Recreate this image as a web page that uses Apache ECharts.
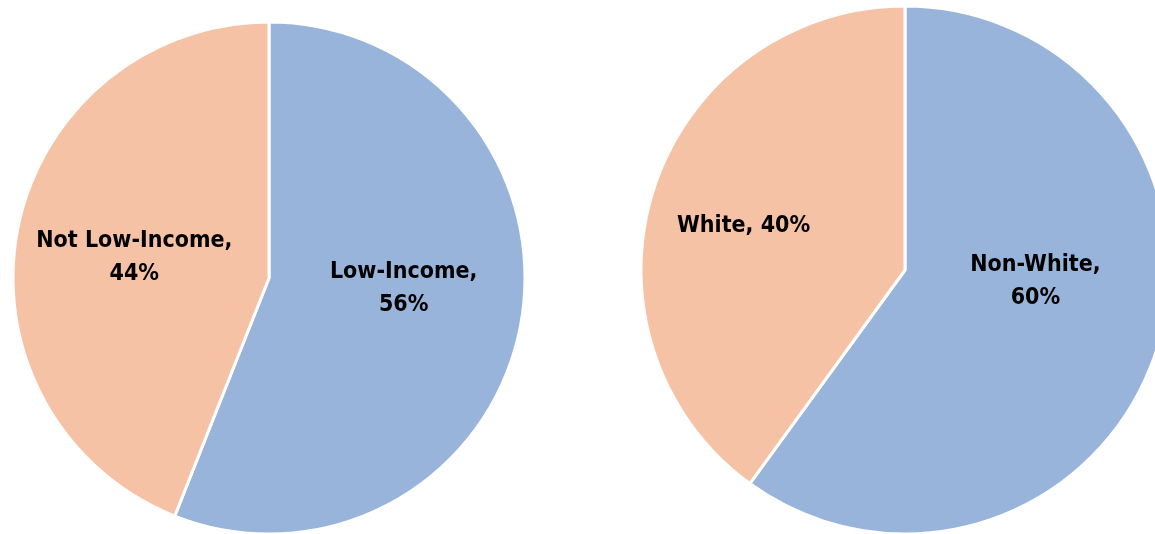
<!DOCTYPE html>
<html>
<head>
<meta charset="utf-8">
<script src="https://cdn.jsdelivr.net/npm/echarts@6/dist/echarts.min.js"></script>
<style>
html,body{margin:0;padding:0;background:#fff;}
#chart{width:1155px;height:534px;}
</style>
</head>
<body>
<div id="chart"></div>
<script>
// Data
const incomeCategories = ['Low-Income', 'Not Low-Income'];
const incomeValues = [56, 44];
const raceCategories = ['Non-White', 'White'];
const raceValues = [60, 40];
const incomeLabels = ['Low-Income,\n56%', 'Not Low-Income,\n44%'];
const raceLabels = ['Non-White,\n60%', 'White, 40%'];

const blue = '#99B4DA';
const orange = '#F6C2A5';
const fontFam = '"DejaVu Sans Condensed", "Liberation Sans Narrow", "Liberation Sans", Arial, sans-serif';

function mkData(cats, vals) {
  return cats.map((c, i) => ({
    name: c, value: vals[i],
    itemStyle: { color: i === 0 ? blue : orange }
  }));
}

const incomeOffsets = [[6, -14], [-6, 4]];
const raceOffsets = [[2, -30], [-33, -2]];

const labelStyle = {
  show: true,
  position: 'inside',
  color: '#000',
  fontFamily: fontFam,
  fontWeight: 'bold',
  fontSize: 23,
  lineHeight: 33,
  align: 'center'
};

const chart = echarts.init(document.getElementById('chart'));
chart.setOption({
  animation: false,
  series: [
    {
      type: 'pie',
      center: [269, 278],
      radius: [0, 256],
      startAngle: 90,
      clockwise: true,
      silent: true,
      itemStyle: { borderColor: '#fff', borderWidth: 3 },
      label: Object.assign({}, labelStyle, {
        formatter: p => incomeLabels[p.dataIndex]
      }),
      labelLine: { show: false },
      labelLayout: p => ({ dx: incomeOffsets[p.dataIndex][0], dy: incomeOffsets[p.dataIndex][1] }),
      emphasis: { disabled: true },
      data: mkData(incomeCategories, incomeValues)
    },
    {
      type: 'pie',
      center: [905, 270],
      radius: [0, 264],
      startAngle: 90,
      clockwise: true,
      silent: true,
      itemStyle: { borderColor: '#fff', borderWidth: 3 },
      label: Object.assign({}, labelStyle, {
        formatter: p => raceLabels[p.dataIndex]
      }),
      labelLine: { show: false },
      labelLayout: p => ({ dx: raceOffsets[p.dataIndex][0], dy: raceOffsets[p.dataIndex][1] }),
      emphasis: { disabled: true },
      data: mkData(raceCategories, raceValues)
    }
  ]
});
</script>
</body>
</html>
